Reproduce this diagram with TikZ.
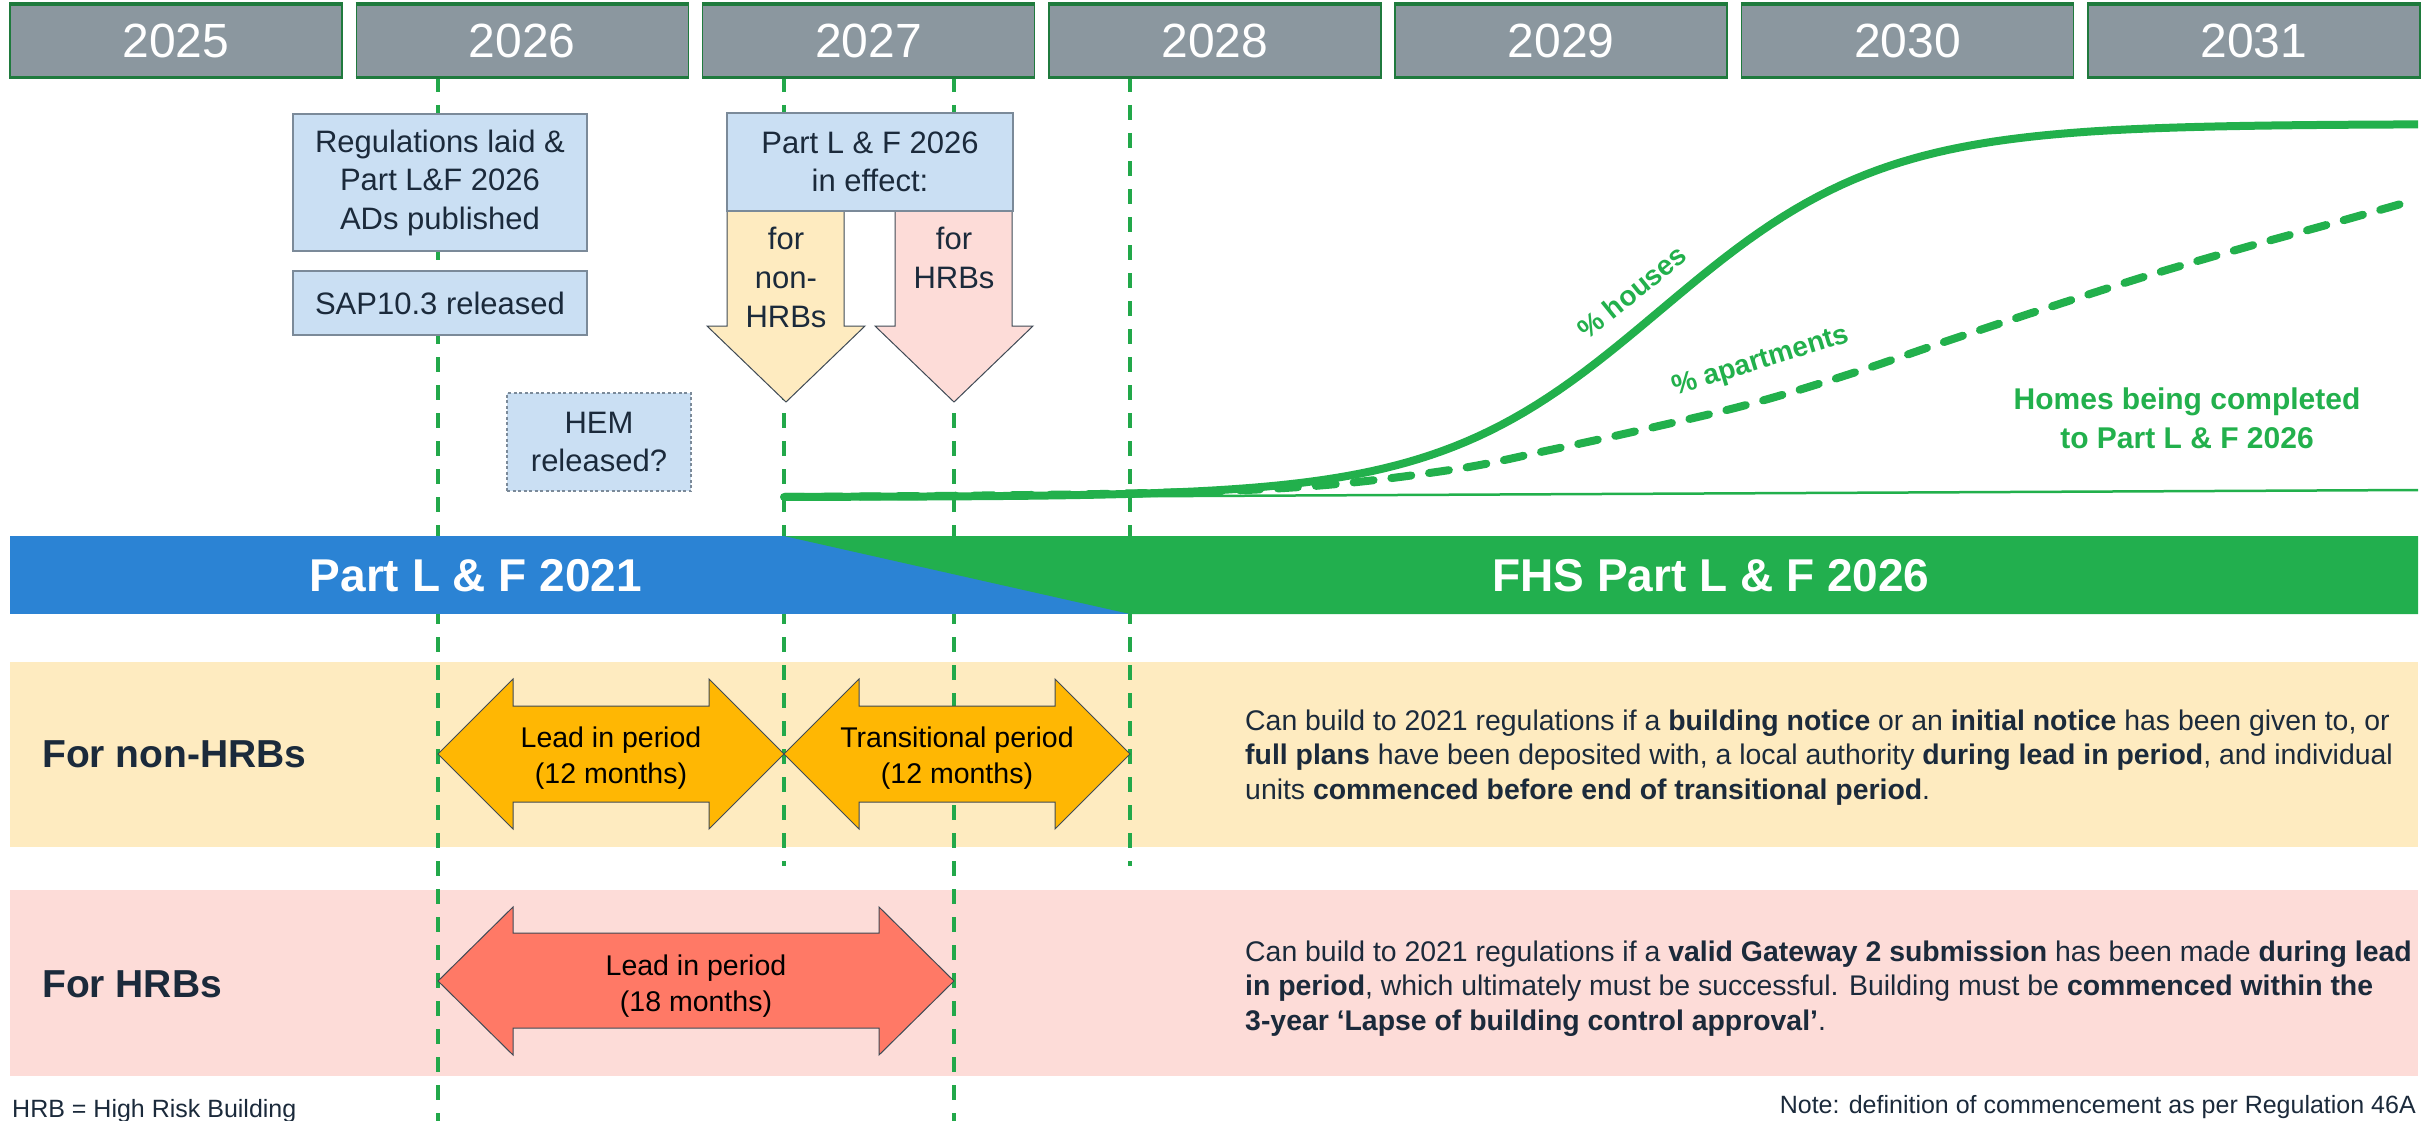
\documentclass[tikz,border=0pt]{standalone}
\usepackage{fontspec}
\setmainfont{Liberation Sans}
\newcommand{\setfs}[2]{\fontsize{#1pt}{#2pt}\selectfont}

\definecolor{yearfill}{HTML}{8B979F}
\definecolor{yearedge}{HTML}{1F7A3D}
\definecolor{guidegreen}{HTML}{22A84A}
\definecolor{boxfill}{HTML}{CADFF3}
\definecolor{boxedge}{HTML}{7B8A99}
\definecolor{ink}{HTML}{1B2A3B}
\definecolor{bandyellow}{HTML}{FEEBC0}
\definecolor{bandpink}{HTML}{FDDCD8}
\definecolor{barblue}{HTML}{2B83D4}
\definecolor{bargreen}{HTML}{22AF4E}
\definecolor{curvegreen}{HTML}{22B04C}
\definecolor{amber}{HTML}{FFB703}
\definecolor{salmon}{HTML}{FF7966}
\definecolor{arrowedge}{HTML}{3F4A55}

\begin{document}
\begin{tikzpicture}[x=1pt,y=-1pt,
  yearbox/.style={fill=yearfill, draw=yearedge, line width=1.5pt, minimum width=332pt,
    minimum height=72pt, inner sep=0pt, text=white, font=\setfs{48}{58}},
  guide/.style={draw=guidegreen, line width=3.5pt, dash pattern=on 15pt off 13pt},
  infobox/.style={fill=boxfill, draw=boxedge, line width=1.2pt, align=center, text=ink,
    inner sep=0pt, font=\setfs{31}{38.5}},
  downarrow/.style={draw=arrowedge, line width=1pt},
  periodarrow/.style={draw=arrowedge, line width=1pt},
  periodtext/.style={align=center, text=black, inner sep=0pt, font=\setfs{28.5}{36}},
  rowlabel/.style={anchor=base west, text=ink, inner sep=0pt, font=\bfseries\setfs{39}{46}},
  bartext/.style={text=white, inner sep=0pt, font=\bfseries\setfs{46}{54}},
  paraline/.style={anchor=base west, text=ink, inner sep=0pt, font=\setfs{28.4}{34}},
  curvelabel/.style={text=curvegreen, inner sep=0pt, font=\bfseries\setfs{28}{34}},
  footnote/.style={text=ink, inner sep=0pt, font=\setfs{25}{29}}
]
\useasboundingbox (0,0) rectangle (2422,1121);

% ---- background rows ----
\fill[bandyellow] (10,662) rectangle (2418,847);
\fill[bandpink] (10,890) rectangle (2418,1076);

% ---- milestone guide lines ----
\coordinate (g1s) at (438,77);  \coordinate (g1e) at (438,1121);
\coordinate (g2s) at (784,77);  \coordinate (g2e) at (784,866);
\coordinate (g3s) at (954,77);  \coordinate (g3e) at (954,1121);
\coordinate (g4s) at (1130,77); \coordinate (g4e) at (1130,866);
\draw[guide] (g1s) -- (g1e);
\draw[guide] (g2s) -- (g2e);
\draw[guide] (g3s) -- (g3e);
\draw[guide] (g4s) -- (g4e);

% ---- regulation bar ----
\fill[barblue] (10,536) rectangle (2418,614);
\fill[bargreen] (784,536) -- (2418,536) -- (2418,614) -- (1130,614) -- cycle;
\node[bartext] (old) at (476,576) {Part L \& F 2021};
\node[bartext] (new) at (1711,576) {FHS Part L \& F 2026};

% ---- year header ----
\foreach \yr [count=\i from 0] in {2025,...,2031} {
  \node[yearbox] (y\yr) at ({176+346.3*\i},41) {\yr};
  \draw[yearedge, line width=3.5pt] (y\yr.north west) -- (y\yr.north east)
                                   (y\yr.south west) -- (y\yr.south east);
}

% ---- uptake curves ----
\draw[curvegreen, line width=2.5pt] (784,498) -- (2418,490);
\draw[curvegreen, line width=8pt, dash pattern=on 20pt off 18pt, line cap=round]
  plot[smooth, tension=0.6] coordinates {(784,497) (1100,494) (1300,487) (1450,470)
    (1550,450) (1650,428) (1750,404) (1850,374) (1950,340) (2050,307) (2150,275)
    (2250,246) (2330,224) (2415,200)};
\draw[curvegreen, line width=8pt]
  plot[domain=784:2418, samples=140] (\x,{497-373/(1+exp(-(\x-1660)/111))});
\node[curvelabel, rotate=39] (houses) at (1632,292) {\% houses};
\node[curvelabel, rotate=17] (flats) at (1761,362) {\% apartments};
\node[curvelabel, anchor=base, font=\bfseries\setfs{30}{38}] (homes1) at (2187,409) {Homes being completed};
\node[curvelabel, anchor=base, font=\bfseries\setfs{30}{38}] (homes2) at (2187,448) {to Part L \& F 2026};

% ---- milestone boxes ----
\node[infobox, minimum width=294pt, minimum height=137pt] (regs) at (440,182.5)
  {Regulations laid \&\\Part L\&F 2026\\ADs published};
\node[infobox, minimum width=294pt, minimum height=64pt] (sap) at (440,303) {SAP10.3 released};
\node[infobox, dash pattern=on 3pt off 2.5pt, minimum width=184pt, minimum height=98pt] (hem)
  at (599,442) {HEM\\released?};

% ---- coming into effect ----
\filldraw[downarrow, fill=bandyellow] (727,211) -- (844,211) -- (844,326) -- (865,326)
  -- (786,402) -- (707,326) -- (727,326) -- cycle;
\filldraw[downarrow, fill=bandpink] (895,211) -- (1012,211) -- (1012,326) -- (1033,326)
  -- (954,402) -- (875,326) -- (895,326) -- cycle;
\node[infobox, minimum width=286pt, minimum height=98pt] (effect) at (870,162)
  {Part L \& F 2026\\in effect:};
\node[align=center, text=ink, inner sep=0pt, anchor=north, font=\setfs{31}{39}] (forN)
  at (786,226.5) {for\\non-\\HRBs};
\node[align=center, text=ink, inner sep=0pt, anchor=north, font=\setfs{31}{39}] (forH)
  at (954,226.5) {for\\HRBs};

% ---- periods, non-HRBs ----
\filldraw[periodarrow, fill=amber] (438,754) -- (513,679) -- (513,706) -- (709,706) -- (709,679)
  -- (784,754) -- (709,829) -- (709,802) -- (513,802) -- (513,829) -- cycle;
\filldraw[periodarrow, fill=amber] (784,754) -- (859,679) -- (859,706) -- (1055,706) -- (1055,679)
  -- (1130,754) -- (1055,829) -- (1055,802) -- (859,802) -- (859,829) -- cycle;
\node[periodtext] (leadN) at (611,758) {Lead in period\\(12 months)};
\node[periodtext] (trans) at (957,758) {Transitional period\\(12 months)};

% ---- period, HRBs ----
\filldraw[periodarrow, fill=salmon] (438,981) -- (513,907) -- (513,933) -- (879,933) -- (879,907)
  -- (954,981) -- (879,1055) -- (879,1028) -- (513,1028) -- (513,1055) -- cycle;
\node[periodtext] (leadH) at (696,986) {Lead in period\\(18 months)};

% ---- row labels ----
\node[rowlabel] (rowN) at (42,767) {For non-HRBs};
\node[rowlabel] (rowH) at (42,997) {For HRBs};

% ---- conditions ----
\node[paraline] (pN1) at (1245,730) {Can build to 2021 regulations if a \textbf{building notice} or an \textbf{initial notice} has been given to, or};
\node[paraline] (pN2) at (1245,764.5) {\textbf{full plans} have been deposited with, a local authority \textbf{during lead in period}, and individual};
\node[paraline] (pN3) at (1245,799) {units \textbf{commenced before end of transitional period}.};
\node[paraline] (pH1) at (1245,961) {Can build to 2021 regulations if a \textbf{valid Gateway 2 submission} has been made \textbf{during lead}};
\node[paraline] (pH2) at (1245,995.5) {\textbf{in period}, which ultimately must be successful. Building must be \textbf{commenced within the}};
\node[paraline] (pH3) at (1245,1030) {\textbf{3-year ‘Lapse of building control approval’}.};

% ---- footnotes ----
\node[footnote, anchor=base west] (hrbnote) at (12,1117) {HRB = High Risk Building};
\node[footnote, anchor=base east] (cnote) at (2416,1113) {Note: definition of commencement as per Regulation 46A};
\end{tikzpicture}
\end{document}
